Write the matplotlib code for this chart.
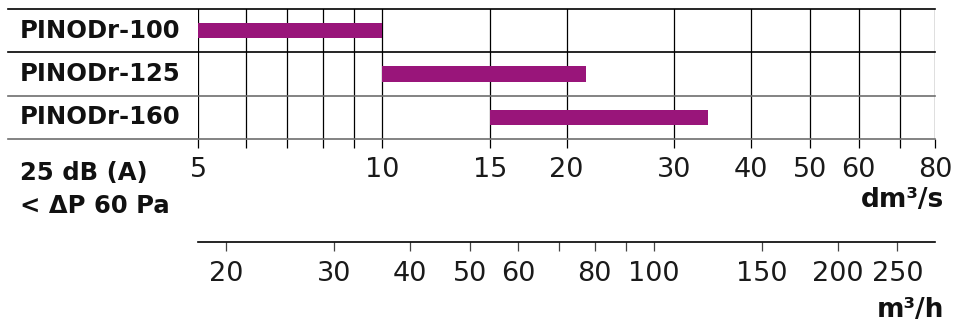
import matplotlib.pyplot as plt
from matplotlib.transforms import blended_transform_factory
from matplotlib.ticker import FixedLocator, NullFormatter, NullLocator

# air flow range per model at 25 dB(A), dm3/s
models = ['PINODr-100', 'PINODr-125', 'PINODr-160']
flow_min = [5, 10, 15]
flow_max = [10, 21.5, 34]

dm3s_ticks = [5, 10, 15, 20, 30, 40, 50, 60, 80]
dm3s_grid = [5, 6, 7, 8, 9, 10, 15, 20, 30, 40, 50, 60, 70, 80]
m3h_ticks = [20, 30, 40, 50, 60, 80, 100, 150, 200, 250]
m3h_minor = [70, 90]
M3H_PER_DM3S = 3.6

W, H = 959, 334
bar_color = '#99157a'
light = dict(family='DejaVu Sans', weight='normal', size=19.5, color='#1a1a1a')
bold = dict(family='DejaVu Sans', weight='bold', size=17.5, color='#111111')
unit = dict(bold, size=19)

fig = plt.figure(figsize=(W / 100, H / 100), dpi=100)
x0, x1 = 198 / W, 935 / W
ax = fig.add_axes([x0, 1 - 139 / H, x1 - x0, 130 / H])
ax.set_xscale('log')
ax.set_xlim(5, 80)
ax.set_ylim(3, 0)

for i, m in enumerate(models):
    ax.barh(i + 0.5, flow_max[i] - flow_min[i], left=flow_min[i], height=0.35,
            color=bar_color, zorder=3)

for v in dm3s_grid:
    ax.axvline(v, color='black', lw=0.9, zorder=1)

ax.xaxis.set_major_locator(FixedLocator(dm3s_ticks))
ax.xaxis.set_minor_locator(FixedLocator([v for v in dm3s_grid if v not in dm3s_ticks]))
ax.set_xticklabels([str(v) for v in dm3s_ticks], fontdict=light)
ax.xaxis.set_minor_formatter(NullFormatter())
ax.tick_params(axis='x', which='both', direction='out', length=6.5, width=0.9, pad=6.5)
ax.yaxis.set_major_locator(NullLocator())
for s in ax.spines.values():
    s.set_visible(False)

# horizontal row separators, extending under the labels
tr = blended_transform_factory(fig.transFigure, ax.transData)
line_cols = ['black', 'black', '#6e6e6e', '#6e6e6e']
for k, c in enumerate(line_cols):
    ax.plot([8 / W, x1], [k, k], transform=tr, color=c, lw=1.2, clip_on=False, zorder=2)

for i, m in enumerate(models):
    ax.text(20 / W, i + 0.5, m, transform=tr, ha='left', va='center', fontdict=bold)

fig.text(20 / W, 1 - 180 / H, '25 dB (A)', ha='left', va='baseline', fontdict=bold)
fig.text(20 / W, 1 - 213 / H, '< ΔP 60 Pa', ha='left', va='baseline', fontdict=bold)
fig.text(944 / W, 1 - 207 / H, 'dm³/s', ha='right', va='baseline', fontdict=unit)

# second scale in m3/h
ax2 = fig.add_axes([x0, 1 - 242 / H, x1 - x0, 0.001])
ax2.set_xscale('log')
ax2.set_xlim(5 * M3H_PER_DM3S, 80 * M3H_PER_DM3S)
ax2.xaxis.set_major_locator(FixedLocator(m3h_ticks))
ax2.xaxis.set_minor_locator(FixedLocator(m3h_minor))
ax2.set_xticklabels([str(v) for v in m3h_ticks], fontdict=light)
ax2.xaxis.set_minor_formatter(NullFormatter())
ax2.tick_params(axis='x', which='both', direction='out', length=6.5, width=0.9,
                color='#444444', pad=7.5)
ax2.yaxis.set_major_locator(NullLocator())
for name, s in ax2.spines.items():
    s.set_visible(name == 'bottom')
ax2.spines['bottom'].set_linewidth(1.2)
ax2.patch.set_visible(False)
fig.text(944 / W, 1 - 317 / H, 'm³/h', ha='right', va='baseline', fontdict=unit)

fig.savefig('out.png', dpi=100)
